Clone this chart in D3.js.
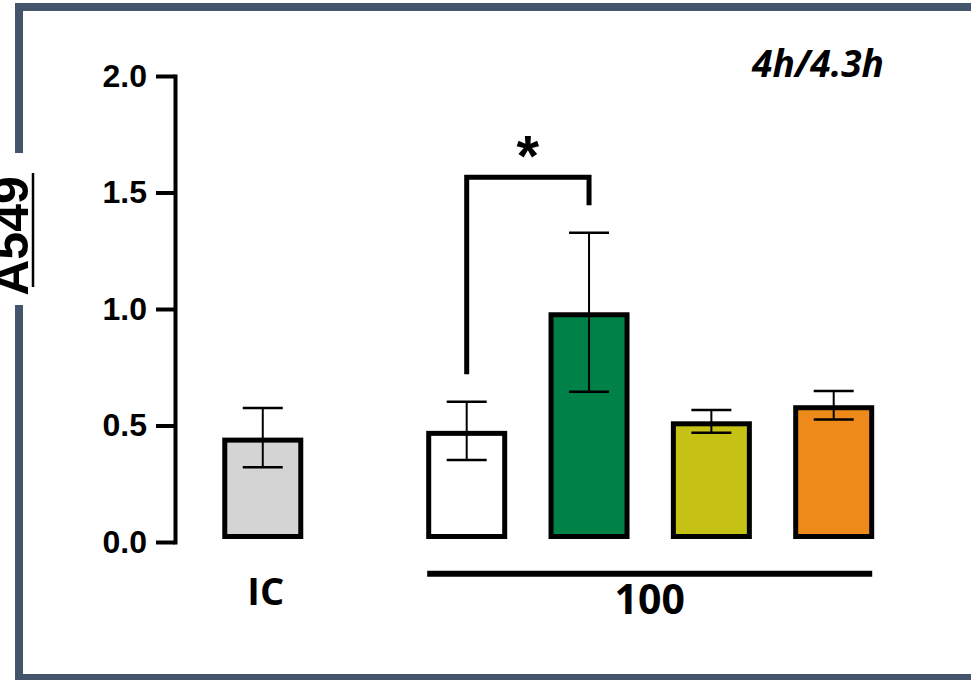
<!DOCTYPE html>
<html>
<head>
<meta charset="utf-8">
<script src="https://cdn.jsdelivr.net/npm/d3@7"></script>
<style>
  html, body { margin: 0; padding: 0; background: #fff; }
  svg { display: block; }
</style>
</head>
<body>
<svg id="chart"></svg>
<script>
'use strict';

// chart data
const categories = ['IC', 'A', 'B', 'C', 'D'];
const means = [0.448, 0.477, 0.986, 0.518, 0.587];
const sds = [0.127, 0.125, 0.341, 0.049, 0.061];
const fills = ['#d4d4d4', '#ffffff', '#008148', '#c6c215', '#ee8a1a'];
const yTicks = [0, 0.5, 1.0, 1.5, 2.0];
const groupLabel = '100';
const cellLabel = 'A549';
const timeLabel = '4h/4.3h';
// significance bracket: between category 1 and 2
const sigFrom = 'A', sigTo = 'B', sigTop = 1.565, sigLeftEnd = 0.72, sigRightEnd = 1.445, sigMark = '*';

(function() {
    const width = 971;
    const height = 680;
    const frameColor = '#44546a';
    const axisFont = '"Liberation Sans", Arial, sans-serif';
    const labelFont = '"Open Sans", "Noto Sans", sans-serif';

    const svg = d3.select('#chart')
        .attr('width', width)
        .attr('height', height);

    // outer frame (runs off the right edge), gap on the left for the cell label
    svg.append('rect')
        .attr('x', 19).attr('y', 7)
        .attr('width', 1000).attr('height', 671)
        .attr('fill', 'none')
        .attr('stroke', frameColor)
        .attr('stroke-width', 8);
    svg.append('rect')
        .attr('x', 10).attr('y', 153)
        .attr('width', 20).attr('height', 152)
        .attr('fill', '#fff');

    const y = d3.scaleLinear().domain([0, 2]).range([542, 76]);

    // bar slots: IC sits apart from the group of four
    const groupGap = 0.667;
    const slot = d3.scaleLinear().domain([0, 3]).range([466.7, 833.7]);
    const xPos = (c) => {
        const i = categories.indexOf(c);
        return i === 0 ? slot(-1 - groupGap) : slot(i - 1);
    };

    // y axis
    const yAxis = svg.append('g')
        .attr('transform', 'translate(175,0)')
        .call(d3.axisLeft(y)
            .tickValues(yTicks)
            .tickFormat(d3.format('.1f'))
            .tickSize(19)
            .tickSizeOuter(0)
            .tickPadding(9));
    yAxis.select('.domain')
        .attr('stroke', '#000')
        .attr('stroke-width', 4)
        .attr('stroke-linecap', 'square');
    yAxis.selectAll('.tick line')
        .attr('stroke', '#000')
        .attr('stroke-width', 4);
    yAxis.selectAll('.tick text')
        .attr('fill', '#000')
        .attr('font-family', axisFont)
        .attr('font-weight', 'bold')
        .attr('font-size', 32);

    const data = categories.map((c, i) => ({ cat: c, mean: means[i], sd: sds[i], fill: fills[i] }));

    // bars
    const barW = 81, sw = 5, barBottom = 539;
    svg.append('g').selectAll('rect')
        .data(data)
        .join('rect')
        .attr('x', d => xPos(d.cat) - barW / 2 + sw / 2)
        .attr('y', d => y(d.mean) + sw / 2)
        .attr('width', barW - sw)
        .attr('height', d => barBottom - y(d.mean) - sw)
        .attr('fill', d => d.fill)
        .attr('stroke', '#000')
        .attr('stroke-width', sw);

    // error bars (mean +/- sd)
    const capW = 40;
    const eb = svg.append('g').attr('stroke', '#000');
    eb.selectAll('line.v')
        .data(data)
        .join('line')
        .attr('class', 'v')
        .attr('x1', d => xPos(d.cat)).attr('x2', d => xPos(d.cat))
        .attr('y1', d => y(d.mean + d.sd)).attr('y2', d => y(d.mean - d.sd))
        .attr('stroke-width', 2);
    eb.selectAll('line.top')
        .data(data)
        .join('line')
        .attr('class', 'top')
        .attr('x1', d => xPos(d.cat) - capW / 2).attr('x2', d => xPos(d.cat) + capW / 2)
        .attr('y1', d => y(d.mean + d.sd)).attr('y2', d => y(d.mean + d.sd))
        .attr('stroke-width', 2.5);
    eb.selectAll('line.bot')
        .data(data)
        .join('line')
        .attr('class', 'bot')
        .attr('x1', d => xPos(d.cat) - capW / 2).attr('x2', d => xPos(d.cat) + capW / 2)
        .attr('y1', d => y(d.mean - d.sd)).attr('y2', d => y(d.mean - d.sd))
        .attr('stroke-width', 2.5);

    // significance bracket
    const x1 = xPos(sigFrom), x2 = xPos(sigTo);
    svg.append('path')
        .attr('d', `M${x1},${y(sigLeftEnd)}V${y(sigTop)}H${x2}V${y(sigRightEnd)}`)
        .attr('fill', 'none')
        .attr('stroke', '#000')
        .attr('stroke-width', 5)
        .attr('stroke-linejoin', 'miter');
    svg.append('text')
        .attr('x', (x1 + x2) / 2)
        .attr('y', 176)
        .attr('text-anchor', 'middle')
        .attr('font-family', axisFont)
        .attr('font-weight', 'bold')
        .attr('font-size', 58)
        .text(sigMark);

    // group line and labels
    const gLeft = xPos(categories[1]) - barW / 2 + 1;
    const gRight = xPos(categories[4]) + barW / 2 - 2;
    svg.append('line')
        .attr('x1', gLeft).attr('x2', gRight)
        .attr('y1', 573.7).attr('y2', 573.7)
        .attr('stroke', '#000')
        .attr('stroke-width', 6);
    svg.append('text')
        .attr('x', (gLeft + gRight) / 2)
        .attr('y', 614)
        .attr('text-anchor', 'middle')
        .attr('font-family', labelFont)
        .attr('font-weight', 'bold')
        .attr('font-size', 41)
        .text(groupLabel);
    svg.append('text')
        .attr('x', xPos(categories[0]) + 3)
        .attr('y', 605)
        .attr('text-anchor', 'middle')
        .attr('font-family', labelFont)
        .attr('font-weight', 'bold')
        .attr('font-size', 38)
        .text(categories[0]);

    // time label
    svg.append('text')
        .attr('x', 752)
        .attr('y', 77)
        .attr('font-family', labelFont)
        .attr('font-weight', 'bold')
        .attr('font-style', 'italic')
        .attr('font-size', 37)
        .text(timeLabel);

    // cell line label, rotated and underlined (clipped at the left edge as in the original)
    svg.append('text')
        .attr('transform', 'translate(28,236) rotate(-90)')
        .attr('text-anchor', 'middle')
        .attr('font-family', axisFont)
        .attr('font-weight', 'bold')
        .attr('font-size', 50)
        .text(cellLabel);
    svg.append('line')
        .attr('x1', 33).attr('x2', 33)
        .attr('y1', 173).attr('y2', 287)
        .attr('stroke', '#000')
        .attr('stroke-width', 2.5);
})();
</script>
</body>
</html>
